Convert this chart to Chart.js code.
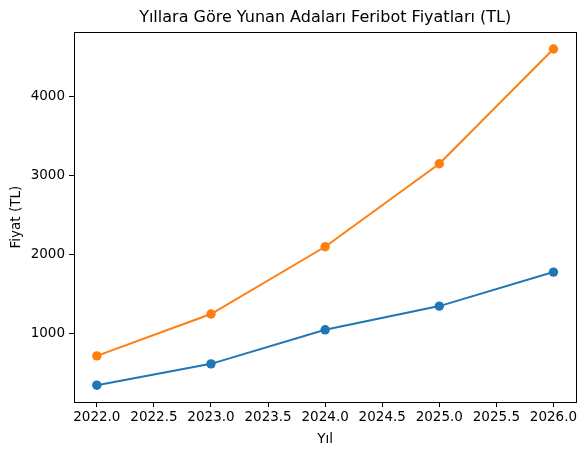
<!DOCTYPE html>
<html><head><meta charset="utf-8">
<script src="https://cdn.jsdelivr.net/npm/chart.js@4"></script>
<style>html,body{margin:0;padding:0;background:#fff}canvas{display:block}</style>
</head><body>
<canvas id="c" width="581" height="455"></canvas>
<script>
const years = [2022, 2023, 2024, 2025, 2026];
const series1 = [350, 620, 1050, 1350, 1780];
const series2 = [720, 1250, 2100, 3150, 4600];
const xTicks = [2022.0, 2022.5, 2023.0, 2023.5, 2024.0, 2024.5, 2025.0, 2025.5, 2026.0];
const yTicks = [1000, 2000, 3000, 4000];
const titleText = 'Yıllara Göre Yunan Adaları Feribot Fiyatları (TL)';
const xLabel = 'Yıl';
const yLabel = 'Fiyat (TL)';

const font = 'DejaVu Sans';
const frame = {
  id: 'frame',
  afterDatasetsDraw(chart) {
    const a = chart.chartArea, ctx = chart.ctx;
    ctx.save();
    ctx.strokeStyle = '#000'; ctx.lineWidth = 1;
    ctx.strokeRect(Math.round(a.left)+0.5, Math.round(a.top)+0.5, Math.round(a.right-a.left), Math.round(a.bottom-a.top));
    ctx.restore();
  }
};
const pts = v => years.map((x, i) => ({x, y: v[i]}));
new Chart(document.getElementById('c'), {
  type: 'line',
  data: { datasets: [
    { data: pts(series1), borderColor: '#1f77b4', backgroundColor: '#1f77b4', borderWidth: 2, pointRadius: 4.7, pointHoverRadius: 4.7, pointBorderWidth: 0, tension: 0 },
    { data: pts(series2), borderColor: '#ff7f0e', backgroundColor: '#ff7f0e', borderWidth: 2, pointRadius: 4.7, pointHoverRadius: 4.7, pointBorderWidth: 0, tension: 0 }
  ]},
  options: {
    responsive: false, animation: false,
    layout: { padding: { left: 0, right: 4, top: 0, bottom: 0 } },
    plugins: {
      legend: { display: false }, tooltip: { enabled: false },
      title: { display: true, fullSize: false, text: titleText, color: '#000', font: { family: font, size: 16, weight: 'normal' }, padding: { top: 8, bottom: 5 } }
    },
    scales: {
      x: {
        type: 'linear', min: 2021.8, max: 2026.2,
        afterBuildTicks: s => { s.ticks = xTicks.map(v => ({value: v})); },
        afterFit: s => { s.height = 53; },
        ticks: { color: '#000', font: { family: font, size: 13.5 }, padding: 2, maxRotation: 0, autoSkip: false, callback: v => Number(v).toFixed(1) },
        grid: { display: true, drawOnChartArea: false, drawTicks: true, tickLength: 5, color: '#000' },
        border: { display: true, color: '#000' },
        title: { display: true, text: xLabel, color: '#000', font: { family: font, size: 13.5 }, padding: { top: 1, bottom: 7 } }
      },
      y: {
        type: 'linear', min: 137.5, max: 4812.5,
        afterBuildTicks: s => { s.ticks = yTicks.map(v => ({value: v})); },
        afterFit: s => { s.width = 74; },
        ticks: { color: '#000', font: { family: font, size: 13.5 }, padding: 4, autoSkip: false, callback: v => String(v) },
        grid: { display: true, drawOnChartArea: false, drawTicks: true, tickLength: 5, color: '#000' },
        border: { display: true, color: '#000' },
        title: { display: true, text: yLabel, color: '#000', font: { family: font, size: 13.5 }, padding: { top: 8, bottom: 0 } }
      }
    }
  },
  plugins: [frame]
});
</script>
</body></html>
